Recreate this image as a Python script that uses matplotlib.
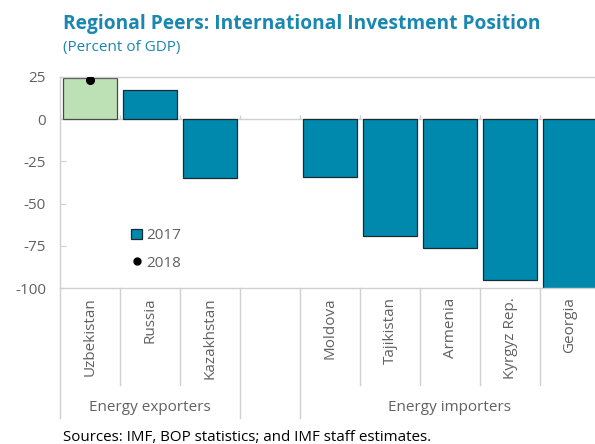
import matplotlib
matplotlib.use("Agg")
import matplotlib.pyplot as plt
import matplotlib.transforms as mtransforms
from matplotlib.patches import Patch
from matplotlib.lines import Line2D
import numpy as np

plt.rcParams["font.family"] = ["Open Sans", "DejaVu Sans"]

# data
countries = ["Uzbekistan", "Russia", "Kazakhstan", "", "Moldova",
             "Tajikistan", "Armenia", "Kyrgyz Rep.", "Georgia"]
iip_2017 = [24.5, 17.5, -35.0, np.nan, -34.0, -69.0, -76.5, -95.0, -130.0]
iip_2018 = [23.5, np.nan, np.nan, np.nan, np.nan, np.nan, np.nan, np.nan, np.nan]
groups = ["Energy exporters", "Energy importers"]
group_spans = [(0, 3), (4, 9)]   # slot index ranges
yticks = [25, 0, -25, -50, -75, -100]

TEAL = "#0089AD"
GREEN = "#BDE0B5"
TITLE_BLUE = "#1A87B0"
GRAY_TXT = "#616161"
LINE_GRAY = "#D0D0D0"

W, H = 595, 444
fig = plt.figure(figsize=(W / 100, H / 100), dpi=100)
ax = fig.add_axes([60 / W, (H - 288) / H, 540 / W, 211 / H])

x = np.arange(len(countries))
colors = [GREEN] + [TEAL] * (len(countries) - 1)
edges = ["#4a4a4a"] + ["#1a2a30"] * (len(countries) - 1)
ax.bar(x, iip_2017, width=0.91, color=colors, edgecolor=edges, linewidth=0.9, zorder=2)
ax.plot(x, iip_2018, "o", color="black", markersize=5.5, zorder=3)

ax.set_xlim(-0.5, len(countries) - 0.5)
ax.set_ylim(-100, 25)
ax.set_yticks(yticks)
ax.set_yticklabels([str(v) for v in yticks], color=GRAY_TXT, fontsize=11)
ax.tick_params(axis="y", direction="in", length=4, color=LINE_GRAY, pad=10)
ax.set_xticks([])

for side in ["top", "bottom", "left"]:
    ax.spines[side].set_color(LINE_GRAY)
    ax.spines[side].set_linewidth(1.0)
ax.spines["right"].set_visible(False)

# zero line with small upward ticks at category boundaries
ax.axhline(0, color=LINE_GRAY, linewidth=1.0, zorder=1)
bounds = np.arange(len(countries) + 1) - 0.5
ax.vlines(bounds, 0, 2.4, color=LINE_GRAY, linewidth=1.0, zorder=1)

# category labels and divider lines below the plot
trans = mtransforms.blended_transform_factory(ax.transData, ax.transAxes)
for i, name in enumerate(countries):
    ax.text(i, -0.045, name, transform=trans, rotation=90, ha="center", va="top",
            color=GRAY_TXT, fontsize=11)

group_edges = {0, 3, 4, 9}
for k, b in enumerate(bounds):
    low = -0.616 if k in group_edges else -0.46
    ax.plot([b, b], [0, low], transform=trans, color=LINE_GRAY, linewidth=1.0,
            clip_on=False)

for name, (a, b) in zip(groups, group_spans):
    ax.text((a + b - 1) / 2, -0.565, name, transform=trans, ha="center", va="center",
            color=GRAY_TXT, fontsize=11)

handles = [Patch(facecolor=TEAL, edgecolor="#1a2a30", linewidth=0.9, label="2017"),
           Line2D([], [], marker="o", color="black", linestyle="none",
                  markersize=5, label="2018")]
leg = ax.legend(handles=handles, loc="upper left", bbox_to_anchor=(0.118, 0.319),
                frameon=False, fontsize=11, handlelength=0.7, handleheight=0.7,
                handletextpad=0.3, labelspacing=0.8, borderpad=0)
for t in leg.get_texts():
    t.set_color(GRAY_TXT)

fig.text(63 / W, 1 - 24 / H, "Regional Peers: International Investment Position",
         color=TITLE_BLUE, fontsize=13.8, fontweight="bold", va="center", ha="left")
fig.text(63 / W, 1 - 47 / H, "(Percent of GDP)", color=TITLE_BLUE, fontsize=11,
         va="center", ha="left")
fig.text(63 / W, 1 - 437 / H, "Sources: IMF, BOP statistics; and IMF staff estimates.",
         color="black", fontsize=10.9, va="center", ha="left")

fig.savefig("out.png", dpi=100)
